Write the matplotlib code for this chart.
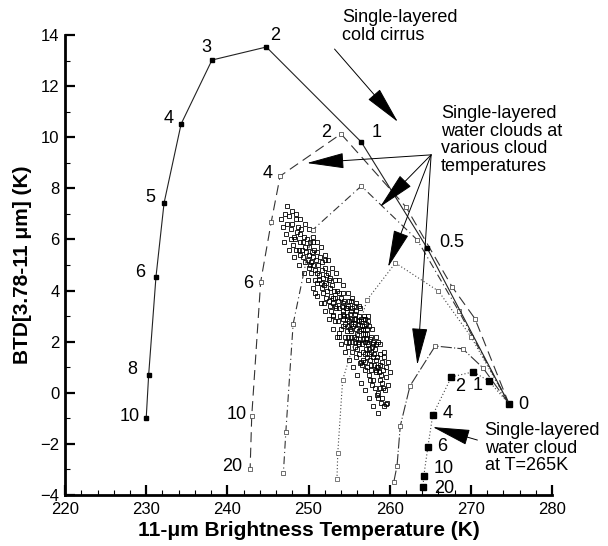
import numpy as np
import matplotlib.pyplot as plt
from matplotlib.ticker import MultipleLocator

plt.rcParams['font.family'] = ['Liberation Sans', 'DejaVu Sans']

# single-layered cold cirrus (BT11, BTD) with optical depth labels
cirrus_t = [274.7, 264.6, 256.5, 244.8, 238.1, 234.3, 232.2, 231.2, 230.3, 230.0]
cirrus_btd = [-0.44, 5.67, 9.81, 13.53, 13.02, 10.52, 7.43, 4.53, 0.70, -0.98]
cirrus_lbl = ['0', '0.5', '1', '2', '3', '4', '5', '6', '8', '10']
cirrus_off = [(10, 0), (18, 4), (11, 7), (6, 8), (-4, 9), (-9, 4), (-10, 4), (-11, 3), (-12, 4), (-12, 1)]

# single-layered water cloud at T=265K
w265_t = [274.7, 272.2, 270.3, 267.6, 265.3, 264.7, 264.2, 264.1]
w265_btd = [-0.44, 0.46, 0.82, 0.62, -0.87, -2.12, -3.25, -3.68]
w265_lbl = ['', '', '1', '2', '4', '6', '10', '20']
w265_off = [(0, 0), (0, 0), (3, -10), (6, -7), (11, 1), (10, 0), (14, 5), (15, -1)]

# water clouds at various cloud temperatures
wa_t = [274.7, 270.5, 267.7, 262.0, 254.0, 246.5, 245.4, 244.1, 243.0, 242.8]
wa_btd = [-0.44, 2.9, 4.14, 7.27, 10.13, 8.48, 6.68, 4.34, -0.91, -2.98]
wa_lbl = ['', '', '', '', '2', '4', '', '6', '10', '20']
wa_off = [(0, 0)] * 4 + [(-11, 1), (-9, 2), (0, 0), (-9, -1), (-11, 1), (-13, 2)]

wb_t = [274.7, 268.5, 263.4, 256.5, 250.5, 248.1, 247.2, 246.9]
wb_btd = [-0.44, 3.2, 5.98, 8.09, 6.37, 2.69, -1.53, -3.14]

wc_t = [274.7, 270.0, 266.0, 260.7, 257.2, 254.2, 253.6, 253.5]
wc_btd = [-0.44, 2.2, 3.98, 5.08, 3.63, 0.50, -2.35, -3.37]

wd_t = [274.7, 271.5, 269.0, 265.6, 262.5, 261.3, 260.9, 260.5]
wd_btd = [-0.44, 0.97, 1.72, 1.83, 0.27, -1.30, -2.86, -3.49]

# observed pixels
obs = [
    (246.6, 6.8), (246.9, 6.5), (247.1, 7.0), (247.4, 7.3), (247.3, 6.6), (247.6, 6.9), (247.8, 6.4), (247.2, 6.2),
    (248.0, 6.6), (248.2, 6.1), (248.4, 6.8), (248.1, 5.8), (248.6, 6.3), (248.3, 6.0), (248.7, 6.5),
    (248.9, 5.9), (249.0, 6.2), (249.2, 5.6), (249.1, 6.4), (249.3, 5.9), (249.4, 6.1), (249.0, 5.4), (249.5, 5.7),
    (249.7, 5.5), (249.8, 6.0), (249.9, 5.2), (250.0, 5.7), (250.1, 5.4), (250.2, 5.9), (250.3, 5.1), (250.4, 5.5),
    (250.0, 4.9), (250.5, 5.3), (250.6, 5.0), (250.7, 5.6), (250.8, 4.8), (250.9, 5.2), (251.0, 5.5), (251.1, 4.7),
    (251.2, 5.0), (251.3, 4.4), (251.4, 5.3), (251.0, 4.3), (250.8, 3.9), (251.6, 4.8), (251.7, 5.1), (251.8, 4.5),
    (251.9, 4.2), (252.0, 4.9), (252.1, 4.6), (252.2, 4.3), (252.3, 4.0), (252.4, 4.7), (252.2, 3.7), (251.9, 3.5),
    (252.5, 4.4), (252.6, 4.1), (252.7, 4.5), (252.8, 3.8), (252.9, 4.2), (253.0, 3.5), (253.1, 4.0), (253.2, 4.4),
    (253.3, 3.7), (253.4, 3.3), (253.0, 3.0), (253.5, 4.0), (252.8, 3.2), (253.2, 2.8), (253.6, 3.6), (253.7, 3.9),
    (253.8, 3.3), (253.9, 3.0), (254.0, 3.7), (254.1, 3.4), (254.2, 2.9), (254.3, 3.2), (254.4, 3.6), (254.5, 2.7),
    (254.0, 2.5), (253.8, 2.2), (254.6, 3.3), (254.2, 3.9), (254.7, 3.0), (254.8, 2.6), (254.9, 3.4), (255.0, 2.8),
    (255.1, 3.1), (255.2, 2.4), (255.3, 2.9), (255.4, 3.3), (255.5, 2.6), (255.0, 2.0), (255.6, 2.2), (255.2, 3.6),
    (254.8, 1.8), (255.4, 1.6), (255.7, 2.9), (255.8, 2.5), (255.9, 3.2), (256.0, 2.3), (256.1, 2.7), (256.2, 3.0),
    (256.3, 2.1), (256.4, 2.5), (256.5, 2.8), (256.0, 1.7), (256.6, 1.9), (256.2, 3.4), (255.8, 1.4), (256.4, 1.2),
    (256.7, 2.3), (256.8, 2.6), (256.9, 2.0), (257.0, 2.9), (257.1, 1.7), (257.2, 2.3), (257.3, 1.9), (257.4, 2.6),
    (257.5, 1.5), (257.0, 1.2), (257.6, 2.1), (257.3, 3.0), (256.9, 0.9), (257.5, 0.7), (257.8, 1.8), (257.9, 1.4),
    (258.0, 2.0), (258.1, 1.1), (258.2, 1.7), (258.3, 0.9), (258.4, 1.4), (258.5, 2.0), (258.0, 0.5), (258.6, 1.0),
    (258.2, 0.2), (258.8, 1.5), (258.4, -0.1), (258.9, 0.7), (259.0, 1.2), (259.1, 0.4), (259.2, 0.9), (259.3, 1.4),
    (259.4, 0.1), (259.5, 0.6), (259.0, -0.2), (259.6, 1.0), (259.3, -0.5), (259.8, 0.3), (259.7, -0.4),
    (253.0, 3.04), (253.8, 2.34), (256.3, 1.17), (258.6, -0.2), (259.5, -0.44),
    # upper edge of the band
    (247.9, 7.1), (248.5, 7.0), (249.0, 6.8), (249.6, 6.6), (250.1, 6.4), (250.6, 6.1), (251.1, 5.9), (251.5, 5.7),
    (252.0, 5.4), (252.4, 5.2), (252.9, 4.9), (253.4, 4.7), (253.8, 4.4), (254.3, 4.2), (254.8, 3.9), (255.3, 3.7),
    (255.8, 3.5), (256.3, 3.3), (256.8, 3.0), (257.3, 2.8), (257.8, 2.5), (258.3, 2.2), (258.8, 1.9), (259.3, 1.6),
    (259.8, 1.2), (260.0, 0.8),
    # lower edge of the band
    (247.0, 5.9), (247.6, 5.6), (248.2, 5.3), (248.8, 5.0), (249.4, 4.7), (249.9, 4.4), (250.5, 4.1), (251.0, 3.8),
    (251.5, 3.5), (252.0, 3.2), (252.5, 2.9), (253.0, 2.5), (253.5, 2.2), (254.0, 1.9), (254.5, 1.6), (255.0, 1.3),
    (255.5, 1.0), (256.0, 0.7), (256.5, 0.4), (257.0, 0.1), (257.5, -0.2), (258.0, -0.5), (258.5, -0.8),
    # dense core
    (254.25, 3.1), (254.25, 3.5), (254.25, 2.6), (254.75, 3.3), (254.75, 2.4), (254.75, 2.9),
    (255.25, 2.2), (255.25, 2.7), (255.25, 3.2), (255.75, 2.0), (255.75, 2.7), (255.75, 3.1), (255.75, 1.8),
    (256.25, 1.9), (256.25, 2.4), (256.25, 2.8), (256.25, 1.5), (256.75, 1.6), (256.75, 2.1), (256.75, 2.5),
    (256.75, 2.9), (256.75, 1.3), (257.25, 1.4), (257.25, 2.0), (257.25, 2.5), (257.25, 1.0),
    (257.75, 1.1), (257.75, 1.6), (257.75, 2.2), (257.75, 0.9), (258.25, 0.8), (258.25, 1.3), (258.25, 1.9),
    (258.75, 0.5), (258.75, 1.1), (258.75, 0.2),
    (249.6, 5.1), (250.3, 4.7), (251.3, 4.6), (251.6, 4.1), (252.5, 3.6), (253.3, 3.4), (252.0, 5.2), (250.5, 5.9),
    (248.5, 5.6), (249.3, 5.3), (250.8, 4.4), (251.8, 3.9), (252.7, 3.4), (253.6, 2.8), (254.5, 2.2), (255.4, 2.0),
    (256.6, 1.1), (257.6, 0.5), (258.6, 0.0), (247.8, 6.0), (248.8, 5.6), (250.2, 5.0), (251.5, 4.3), (253.0, 3.7),
    (254.4, 3.0), (254.9, 2.2), (255.1, 2.5), (255.6, 2.9), (255.9, 2.1), (256.1, 2.0), (256.4, 2.9), (256.6, 2.6),
    (256.9, 2.3), (257.1, 2.1), (257.4, 1.7), (257.6, 1.3), (257.9, 1.9), (258.1, 1.5), (258.4, 1.0), (258.7, 0.8),
    (255.6, 3.4), (255.0, 3.6), (254.6, 2.0), (256.9, 1.5), (257.8, 0.3), (258.9, -0.4), (259.2, 0.2), (257.1, 2.7),
]
obs_t = [p[0] for p in obs]
obs_btd = [p[1] for p in obs]

fig = plt.figure(figsize=(6.08, 5.46), dpi=100)
ax = fig.add_axes([0.107, 0.0934, 0.801, 0.8425])

ax.plot(obs_t, obs_btd, 's', ms=2.7, mfc='none', mec='black', mew=0.6, ls='none')

ax.plot(wa_t, wa_btd, color='#333333', lw=0.8, ls=(0, (9, 5)),
        marker='s', ms=2.3, mfc='white', mec='#333333', mew=0.5)
ax.plot(wb_t, wb_btd, color='#333333', lw=0.8, ls=(0, (7, 3, 1, 3)),
        marker='s', ms=2.3, mfc='white', mec='#333333', mew=0.5)
ax.plot(wc_t, wc_btd, color='#444444', lw=0.8, ls=(0, (1, 2)),
        marker='s', ms=2.3, mfc='white', mec='#444444', mew=0.5)
ax.plot(wd_t, wd_btd, color='#333333', lw=0.8, ls=(0, (10, 2, 1, 2)),
        marker='s', ms=2.3, mfc='white', mec='#333333', mew=0.5)

ax.plot(w265_t, w265_btd, color='#444444', lw=0.8, ls=(0, (1, 2)),
        marker='s', ms=4.2, mfc='black', mec='black')
ax.plot(cirrus_t, cirrus_btd, color='#222222', lw=0.8,
        marker='s', ms=3.4, mfc='black', mec='black')

lbl_kw = dict(textcoords='offset points', ha='center', va='center', fontsize=13)
for t, b, s, o in zip(cirrus_t, cirrus_btd, cirrus_lbl, cirrus_off):
    ax.annotate(s, (t, b), xytext=o, **lbl_kw)
for t, b, s, o in zip(w265_t, w265_btd, w265_lbl, w265_off):
    if s:
        ax.annotate(s, (t, b), xytext=o, **lbl_kw)
for t, b, s, o in zip(wa_t, wa_btd, wa_lbl, wa_off):
    if s:
        ax.annotate(s, (t, b), xytext=o, **lbl_kw)

# call-outs
arrow = dict(arrowstyle='-|>,head_length=2.4,head_width=0.5', color='black',
             lw=0.7, mutation_scale=10, shrinkA=0, shrinkB=0)
ax.text(254.1, 15.0, 'Single-layered\ncold cirrus', fontsize=13, va='top',
        ha='left', linespacing=1.05)
ax.annotate('', xy=(261.0, 10.6), xytext=(253.2, 13.45), arrowprops=arrow)

ax.text(266.3, 11.26, 'Single-layered\nwater clouds at\nvarious cloud\ntemperatures',
        fontsize=13, va='top', ha='left', linespacing=1.05)
for tip in [(249.8, 8.99), (258.8, 7.27), (259.8, 4.92), (263.4, 1.09)]:
    ax.annotate('', xy=tip, xytext=(265.1, 9.31), arrowprops=arrow)

ax.text(271.7, -1.14, 'Single-layered\nwater cloud\nat T=265K', fontsize=13,
        va='top', ha='left', linespacing=1.05)
ax.annotate('', xy=(265.3, -1.34), xytext=(270.8, -1.85), arrowprops=arrow)

ax.set_xlim(220, 280)
ax.set_ylim(-4, 14)
ax.xaxis.set_major_locator(MultipleLocator(10))
ax.xaxis.set_minor_locator(MultipleLocator(2))
ax.yaxis.set_major_locator(MultipleLocator(2))
ax.yaxis.set_minor_locator(MultipleLocator(1))
ax.tick_params(which='major', direction='in', length=7, width=1.6, labelsize=12, pad=5)
ax.tick_params(which='minor', direction='in', length=3.5, width=0.8)
ax.tick_params(axis='y', pad=4)
for s in ['top', 'right']:
    ax.spines[s].set_visible(False)
for s in ['left', 'bottom']:
    ax.spines[s].set_linewidth(2.0)

ax.set_xlabel('11-\u03bcm Brightness Temperature (K)', fontsize=15, fontweight='bold', labelpad=3)
ax.set_ylabel('BTD[3.78-11 \u03bcm] (K)', fontsize=15, fontweight='bold', labelpad=6)

fig.savefig('out.png', dpi=100)
